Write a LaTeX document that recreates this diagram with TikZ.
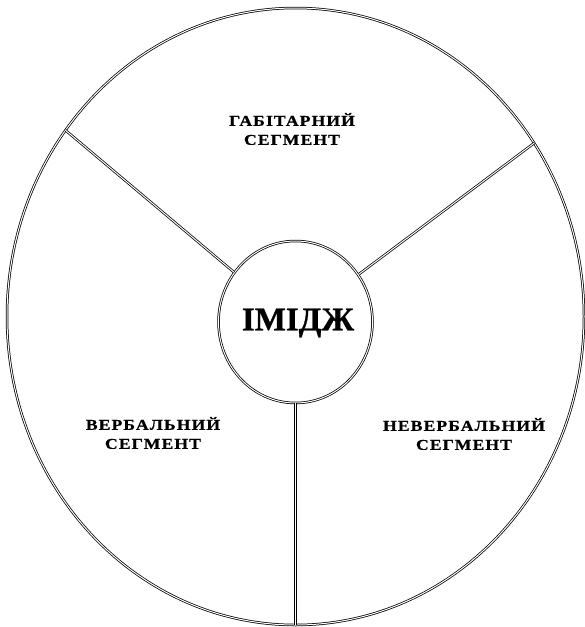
\documentclass[tikz,border=0pt]{standalone}
\usepackage{fontspec}
\setmainfont{Liberation Serif}
\newfontfamily\segfont[FakeStretch=1.18, LetterSpace=7, FakeBold=0.6]{Liberation Serif}
\newfontfamily\imgfont[FakeBold=0.8]{Liberation Serif}
\usetikzlibrary{shapes.geometric}
\tikzset{
  dbl/.style={draw=black, line width=0.75pt, double=white, double distance=1.0pt},
  seglabel/.style={align=center, inner sep=0pt, font=\segfont\fontsize{15}{19}\selectfont\bfseries},
}
\begin{document}
\begin{tikzpicture}[x=1pt,y=-1pt]
\useasboundingbox (0,0) rectangle (585,627);
\node[ellipse, dbl, minimum width=577pt, minimum height=617pt, inner sep=0pt] (outer) at (295.5,316.5) {};
\node[ellipse, dbl, minimum width=154pt, minimum height=162pt, inner sep=0pt] (img) at (295.5,322) {};
\node[inner sep=0pt, font=\imgfont\fontsize{33}{36}\selectfont\bfseries] (imgtext) at (298,323) {ІМІДЖ};
\draw[dbl] (img.141) -- (outer.141.5);
\draw[dbl] (img.37) -- (outer.36.3);
\draw[dbl] (img.south) -- (outer.south);
\node[seglabel] (hab) at (292,129) {ГАБІТАРНИЙ\\СЕГМЕНТ};
\node[seglabel] (verb) at (153,433) {ВЕРБАЛЬНИЙ\\СЕГМЕНТ};
\node[seglabel] (nonverb) at (464,434) {НЕВЕРБАЛЬНИЙ\\СЕГМЕНТ};
\end{tikzpicture}
\end{document}
